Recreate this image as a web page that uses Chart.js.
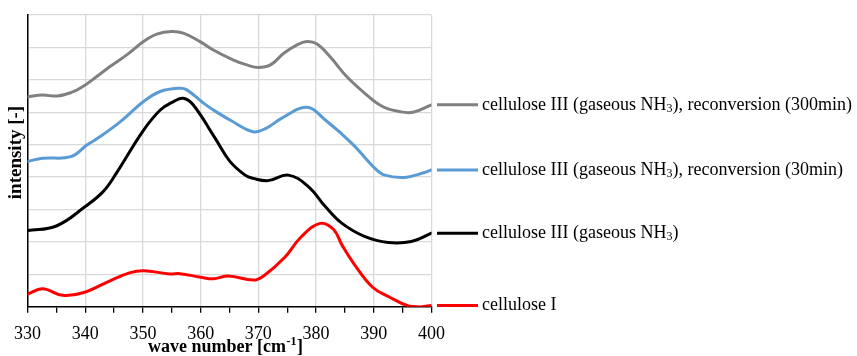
<!DOCTYPE html>
<html>
<head>
<meta charset="utf-8">
<script src="https://cdn.jsdelivr.net/npm/chart.js@4/dist/chart.umd.min.js"></script>
<style>
html,body{margin:0;padding:0;background:#fff;}
#wrap{width:857px;height:356px;position:relative;}
</style>
</head>
<body>
<div id="wrap"><canvas id="c"></canvas></div>
<script>
// ---- data ----
const xTicksMajor = [330, 340, 350, 360, 370, 380, 390, 400];

const seriesNames = [
  "cellulose III (gaseous NH3), reconversion (300min)",
  "cellulose III (gaseous NH3), reconversion (30min)",
  "cellulose III (gaseous NH3)",
  "cellulose I"
];
const seriesColors = ["#808080", "#5B9BD5", "#000000", "#FF0000"];

const grayX = [330, 332.6, 335.2, 337.6, 339.4, 342, 344.3, 347.2, 350.1, 352.4, 355, 357, 359.9, 362.2, 365.7, 368, 370, 372.1, 374.4, 376.7, 378.4, 380.1, 382.4, 385.3, 388.8, 391.6, 394.5, 396.8, 400];
const grayY = [6.48, 6.53, 6.50, 6.61, 6.77, 7.10, 7.41, 7.77, 8.18, 8.41, 8.49, 8.44, 8.18, 7.92, 7.61, 7.46, 7.38, 7.46, 7.82, 8.08, 8.18, 8.11, 7.72, 7.10, 6.53, 6.17, 6.02, 6.00, 6.23];

const blueX = [330, 332.6, 337.5, 340.3, 342.6, 346.1, 350.1, 353, 356.4, 357.6, 360.5, 362.2, 365.1, 369.1, 371.4, 374, 378.4, 381.6, 386.2, 390.2, 391.9, 395.4, 398.8, 400];
const blueY = [4.48, 4.58, 4.63, 4.99, 5.25, 5.71, 6.33, 6.64, 6.74, 6.69, 6.28, 6.07, 5.76, 5.40, 5.51, 5.81, 6.15, 5.76, 5.04, 4.27, 4.06, 3.99, 4.14, 4.22];

const blackX = [330, 335, 340, 343.1, 345.4, 350, 353, 355.3, 357, 358.7, 362.5, 365, 367.7, 369.1, 371.7, 375.2, 378.7, 381.6, 384.5, 388.5, 392.5, 396.5, 400];
const blackY = [2.35, 2.49, 3.09, 3.55, 4.12, 5.42, 6.07, 6.33, 6.43, 6.23, 5.20, 4.50, 4.06, 3.96, 3.89, 4.06, 3.70, 3.09, 2.57, 2.16, 1.98, 2.01, 2.27];

const redX = [330, 332.6, 336.1, 339.6, 344.3, 347.8, 350.1, 354.7, 356.4, 360, 362.2, 364.8, 369.1, 370.9, 374.5, 377.4, 380.7, 383, 384.5, 386.5, 389.8, 392.7, 396, 398.1, 400];
const redY = [0.39, 0.55, 0.35, 0.43, 0.80, 1.05, 1.11, 1.01, 1.02, 0.91, 0.86, 0.95, 0.82, 0.95, 1.51, 2.15, 2.57, 2.39, 1.90, 1.34, 0.60, 0.30, 0.02, -0.01, 0.04];

const seriesX = [grayX, blueX, blackX, redX];
const seriesY = [grayY, blueY, blackY, redY];

// ---- helpers ----
const SERIF = '"Liberation Serif", "Times New Roman", serif';
const pts = (xs, ys) => xs.map((x, i) => ({x: x, y: ys[i]}));

function drawRich(ctx, text, x, y) {
  // renders "NH3" with a subscript 3
  const parts = text.split("NH3");
  ctx.textBaseline = "middle";
  ctx.textAlign = "left";
  ctx.fillStyle = "#000";
  let cx = x;
  parts.forEach((p, i) => {
    ctx.font = "18px " + SERIF;
    ctx.fillText(p, cx, y);
    cx += ctx.measureText(p).width;
    if (i < parts.length - 1) {
      ctx.fillText("NH", cx, y);
      cx += ctx.measureText("NH").width;
      ctx.font = "12px " + SERIF;
      ctx.fillText("3", cx, y + 4);
      cx += ctx.measureText("3").width;
    }
  });
}

const endLabels = {
  id: "endLabels",
  afterDatasetsDraw(chart) {
    const {ctx, chartArea} = chart;
    chart.data.datasets.forEach((ds, i) => {
      const meta = chart.getDatasetMeta(i);
      const pt = meta.data[meta.data.length - 1];
      const y = pt.y;
      ctx.save();
      ctx.strokeStyle = ds.borderColor;
      ctx.lineWidth = 3;
      ctx.beginPath();
      ctx.moveTo(chartArea.right + 5.5, y);
      ctx.lineTo(chartArea.right + 46.5, y);
      ctx.stroke();
      drawRich(ctx, ds.label, chartArea.right + 50.5, y);
      ctx.restore();
    });
  }
};

const axisTitles = {
  id: "axisTitles",
  afterDraw(chart) {
    const {ctx, chartArea} = chart;
    ctx.save();
    ctx.fillStyle = "#000";
    ctx.textBaseline = "alphabetic";
    ctx.textAlign = "left";
    // x title with superscript
    const a = "wave number [cm", sup = "-1", b = "]";
    ctx.font = "bold 18px " + SERIF;
    const wa = ctx.measureText(a).width, wb = ctx.measureText(b).width;
    ctx.font = "bold 12px " + SERIF;
    const ws = ctx.measureText(sup).width;
    const total = wa + ws + wb + 1;
    const cxm = (chartArea.left + chartArea.right) / 2 - 4;
    let x = cxm - total / 2;
    const base = 351.5;
    ctx.font = "bold 18px " + SERIF;
    ctx.fillText(a, x, base);
    x += wa + 0.5;
    ctx.font = "bold 12px " + SERIF;
    ctx.fillText(sup, x, base - 7);
    x += ws + 0.5;
    ctx.font = "bold 18px " + SERIF;
    ctx.fillText(b, x, base);
    // y title, rotated
    ctx.translate(20.5, 152.5);
    ctx.rotate(-Math.PI / 2);
    ctx.textAlign = "center";
    ctx.font = "bold 19px " + SERIF;
    ctx.fillText("intensity [-]", 0, 0);
    ctx.restore();
  }
};

const datasets = seriesNames.map((name, i) => ({
  label: name,
  data: pts(seriesX[i], seriesY[i]),
  borderColor: seriesColors[i],
  backgroundColor: seriesColors[i],
  borderWidth: 3,
  pointRadius: 0,
  pointHoverRadius: 0,
  fill: false,
  tension: 0.4,
  borderCapStyle: "round",
  borderJoinStyle: "round"
}));

new Chart(document.getElementById("c"), {
  type: "line",
  data: {datasets: datasets},
  options: {
    responsive: true,
    maintainAspectRatio: false,
    animation: false,
    devicePixelRatio: 1,
    layout: {padding: {left: 0, top: 15, right: 425.5, bottom: 0}},
    plugins: {legend: {display: false}, tooltip: {enabled: false}},
    events: [],
    scales: {
      x: {
        type: "linear",
        min: 330,
        max: 400,
        afterBuildTicks(scale) {
          const t = [];
          for (let v = 330; v <= 400; v += 5) t.push({value: v});
          scale.ticks = t;
        },
        ticks: {
          autoSkip: false,
          maxRotation: 0,
          padding: 11,
          color: "#000",
          font: {family: SERIF, size: 18},
          callback: (v) => xTicksMajor.includes(v) ? String(v) : ""
        },
        grid: {
          color: (c) => (c.tick && xTicksMajor.includes(c.tick.value)) ? "#d9d9d9" : "rgba(0,0,0,0)",
          tickColor: "#000",
          tickLength: 6,
          tickWidth: 1.3,
          lineWidth: 1.3,
          drawTicks: true
        },
        border: {color: "#000", width: 1.5},
        afterFit(scale) { scale.height = 49.3; }
      },
      y: {
        type: "linear",
        min: 0,
        max: 9,
        ticks: {display: false, stepSize: 1},
        grid: {color: "#d9d9d9", lineWidth: 1.3, drawTicks: false},
        border: {color: "#000", width: 1.5},
        afterFit(scale) { scale.width = 27.5; }
      }
    }
  },
  plugins: [endLabels, axisTitles]
});
</script>
</body>
</html>
